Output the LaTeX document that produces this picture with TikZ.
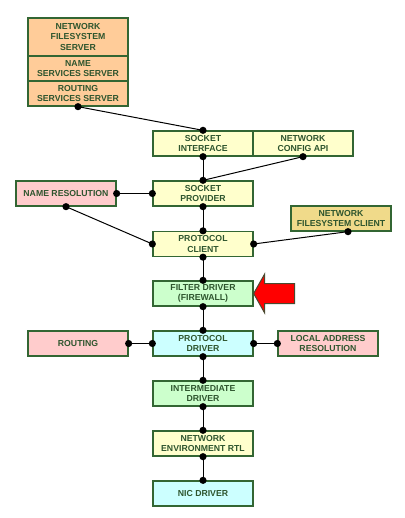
\documentclass[tikz,border=0pt]{standalone}
\usepackage{fontspec}
\setmainfont{Liberation Sans}
\definecolor{peach}{HTML}{FFCC99}
\definecolor{paleyellow}{HTML}{FFFFCC}
\definecolor{palepink}{HTML}{FFCCCC}
\definecolor{palegreen}{HTML}{CCFFCC}
\definecolor{palecyan}{HTML}{CCFFFF}
\definecolor{darkyellow}{HTML}{F0DA8A}
\definecolor{edgegreen}{HTML}{336633}
\definecolor{textgreen}{HTML}{2E552E}
\definecolor{arrowedge}{HTML}{4A4A30}
\begin{document}
\begin{tikzpicture}[x=1pt,y=-1pt,
    box/.style={draw=edgegreen, line width=1.3pt, minimum width=100pt, minimum height=25pt,
        inner sep=0pt, align=center, text=textgreen,
        font=\bfseries\fontsize{8.7}{10.4}\selectfont},
    link/.style={draw=black, line width=1pt}]
        \useasboundingbox (0,0) rectangle (404,518);

        \node[box, fill=peach, minimum height=38pt] (nfss) at (78,37) {NETWORK\\FILESYSTEM\\SERVER};
        \node[box, fill=peach] (nss) at (78,68.5) {NAME\\SERVICES SERVER};
        \node[box, fill=peach] (rss) at (78,93.5) {ROUTING\\SERVICES SERVER};

        \node[box, fill=paleyellow] (sockif) at (203,143.5) {SOCKET\\INTERFACE};
        \node[box, fill=paleyellow] (cfgapi) at (303,143.5) {NETWORK\\CONFIG API};
        \node[box, fill=paleyellow] (sockprov) at (203,193.5) {SOCKET\\PROVIDER};
        \node[box, fill=palepink] (nameres) at (66,193.5) {NAME RESOLUTION};
        \node[box, fill=paleyellow] (protcl) at (203,244) {PROTOCOL\\CLIENT};
        \node[box, fill=darkyellow] (nfsc) at (341,218.5) {NETWORK\\FILESYSTEM CLIENT};
        \node[box, fill=palegreen] (filter) at (203,293.5) {FILTER DRIVER\\(FIREWALL)};
        \node[box, fill=palecyan] (protdrv) at (203,343.5) {PROTOCOL\\DRIVER};
        \node[box, fill=palepink] (routing) at (78,343.5) {ROUTING};
        \node[box, fill=palepink] (locaddr) at (328,343.5) {LOCAL ADDRESS\\RESOLUTION};
        \node[box, fill=palegreen] (interm) at (203,393.5) {INTERMEDIATE\\DRIVER};
        \node[box, fill=paleyellow] (netenv) at (203,443.5) {NETWORK\\ENVIRONMENT RTL};
        \node[box, fill=palecyan] (nic) at (203,493.5) {NIC DRIVER};
        \coordinate (nfscdot) at ([xshift=7pt]nfsc.south);

        \draw[link] (rss.south) -- (sockif.north);
        \draw[link] (sockif.south) -- (sockprov.north);
        \draw[link] (cfgapi.south) -- (sockprov.north);
        \draw[link] (nameres.east) -- (sockprov.west);
        \draw[link] (sockprov.south) -- (protcl.north);
        \draw[link] (nameres.south) -- (protcl.west);
        \draw[link] (protcl.east) -- (nfscdot);
        \draw[link] (protcl.south) -- (filter.north);
        \draw[link] (filter.south) -- (protdrv.north);
        \draw[link] (routing.east) -- (protdrv.west);
        \draw[link] (protdrv.east) -- (locaddr.west);
        \draw[link] (protdrv.south) -- (interm.north);
        \draw[link] (interm.south) -- (netenv.north);
        \draw[link] (netenv.south) -- (nic.north);

        \foreach \p in {rss.south, sockif.north, sockif.south, cfgapi.south, sockprov.north,
                sockprov.south, sockprov.west, nameres.east, nameres.south, protcl.north,
                protcl.west, protcl.east, protcl.south, nfscdot, filter.north, filter.south,
                protdrv.north, protdrv.south, protdrv.west, protdrv.east, routing.east,
                locaddr.west, interm.north, interm.south, netenv.north, netenv.south, nic.north} {
                \fill (\p) circle (3.6);
        }

        \draw [draw=arrowedge, line width=1pt, fill=red, line join=miter]
            (filter.east) -- ++(11,-19.5) -- ++(0,9.5) -- ++(30,0) -- ++(0,20)
            -- ++(-30,0) -- ++(0,9.5) -- cycle;

\end{tikzpicture}
\end{document}
